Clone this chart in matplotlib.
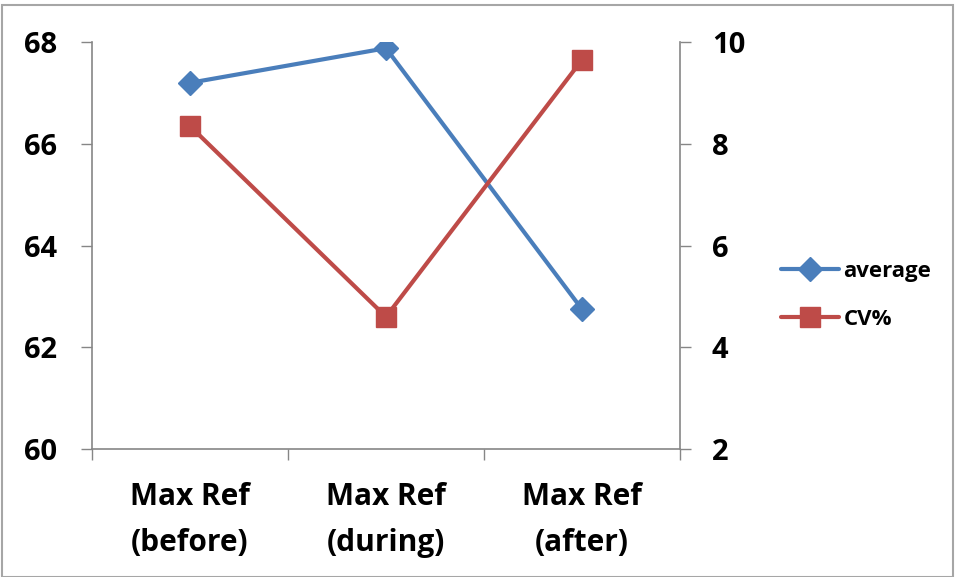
import matplotlib
matplotlib.use("Agg")
import matplotlib.pyplot as plt
from matplotlib.patches import Rectangle

# series values per measurement window
categories = ["Max Ref\n(before)", "Max Ref\n(during)", "Max Ref\n(after)"]
average = [67.2, 67.88, 62.75]
cv_pct = [8.35, 4.6, 9.65]

blue = "#4A7EBB"
red = "#BE4B48"
axis_grey = "#868686"

plt.rcParams["font.family"] = ["Open Sans", "DejaVu Sans"]
plt.rcParams["font.weight"] = "bold"

fig = plt.figure(figsize=(9.55, 5.77), dpi=100)
ax = fig.add_axes([0.0963, 0.2218, 0.6157, 0.7052])
ax2 = ax.twinx()

x = list(range(len(categories)))
l1, = ax.plot(x, average, color=blue, lw=3, marker="D", markersize=12.5,
              label="average", solid_capstyle="round")
l2, = ax2.plot(x, cv_pct, color=red, lw=3, marker="s", markersize=15,
               label="CV%", solid_capstyle="round")

ax.set_xlim(-0.5, 2.5)
ax.set_ylim(60, 68)
ax.set_yticks([60, 62, 64, 66, 68])
ax2.set_ylim(2, 10)
ax2.set_yticks([2, 4, 6, 8, 10])

ax.set_xticks(x)
ax.set_xticklabels(categories, fontsize=21.5, fontweight="bold", linespacing=1.7)
ax.set_xticks([-0.5, 0.5, 1.5, 2.5], minor=True)
ax.tick_params(axis="x", which="major", length=0, pad=24)
ax.tick_params(axis="x", which="minor", length=8, width=1, color=axis_grey, direction="out")

ax.tick_params(axis="y", labelsize=21, length=8, width=1, color=axis_grey, pad=17)
ax2.tick_params(axis="y", labelsize=21, length=8, width=1, color=axis_grey, pad=15)
for lab in ax.get_yticklabels() + ax2.get_yticklabels():
    lab.set_fontweight("bold")

for a in (ax, ax2):
    a.spines["top"].set_visible(False)
    for s in ("left", "right", "bottom"):
        a.spines[s].set_color(axis_grey)
        a.spines[s].set_linewidth(1.2)
ax.spines["right"].set_visible(False)
ax2.spines["left"].set_visible(False)
ax2.spines["bottom"].set_visible(False)

leg = fig.legend(handles=[l1, l2], loc="center left", bbox_to_anchor=(0.797, 0.488),
                 frameon=False, handlelength=2.6, handletextpad=0.2,
                 labelspacing=1.2, prop={"weight": "bold", "size": 16})

# chart border
fig.patches.append(Rectangle((0.002, 0.0), 0.996, 0.991, transform=fig.transFigure,
                             fill=False, edgecolor="#A6A6A6", lw=1.5))

fig.savefig("out.png", dpi=100)
